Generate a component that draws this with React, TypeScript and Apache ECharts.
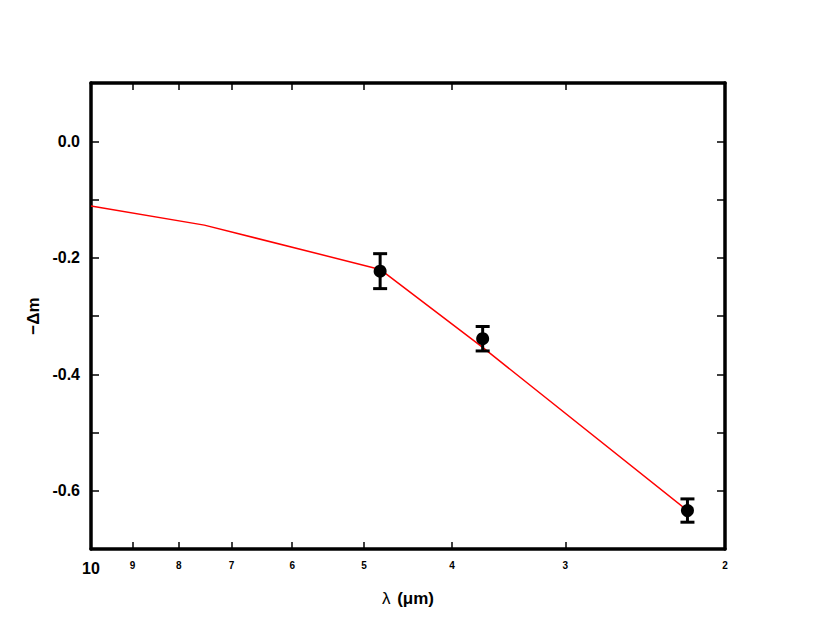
import React, { useEffect, useRef } from 'react';
import * as echarts from 'echarts';

// Tick values
const xTickValues = [9, 8, 7, 6, 5, 4, 3];
const xLabelValues = [10, 9, 8, 7, 6, 5, 4, 3, 2];
const yLabelValues = [0, -0.2, -0.4, -0.6];

// Model curve (red)
const modelLambda = [10, 7.5, 4.8, 3.7, 2.2];
const modelDm = [-0.111, -0.144, -0.22, -0.354, -0.634];

// Observations with error bars
const obsLambda = [4.8, 3.7, 2.2];
const obsDm = [-0.223, -0.339, -0.634];
const obsErr = [0.03, 0.021, 0.02];

const FONT = 'Liberation Sans';

export default function App() {
  const ref = useRef<HTMLDivElement>(null);
  useEffect(() => {
    if (!ref.current) return;
    const chart = echarts.init(ref.current, undefined, { renderer: 'svg' });
    const xBase = {
      type: 'log' as const,
      logBase: 10,
      min: 2,
      max: 10,
      inverse: true,
      splitLine: { show: false },
      axisLine: { show: true, onZero: false, lineStyle: { color: '#000', width: 3.5 } },
      axisTick: { show: true, inside: true, length: 7, lineStyle: { color: '#000', width: 1.5 }, customValues: xTickValues },
    };
    const yBase = {
      type: 'value' as const,
      min: -0.7,
      max: 0.1,
      interval: 0.1,
      splitLine: { show: false },
      axisLine: { show: true, onZero: false, lineStyle: { color: '#000', width: 3.5 } },
      axisTick: { show: true, inside: true, length: 8, lineStyle: { color: '#000', width: 1.5 } },
    };
    chart.setOption({
      animation: false,
      backgroundColor: '#fff',
      grid: { left: 91, right: 105, top: 83, bottom: 92 },
      xAxis: [
        {
          ...xBase,
          position: 'bottom',
          name: '{a|λ}  {b|(μm)}',
          nameLocation: 'middle',
          nameGap: 41,
          nameTextStyle: {
            color: '#000',
            rich: {
              a: { fontFamily: FONT, fontSize: 17, color: '#000' },
              b: { fontFamily: FONT, fontSize: 17, fontWeight: 'bold', color: '#000' },
            },
          },
          axisLabel: {
            show: true,
            margin: 11,
            verticalAlign: 'top',
            customValues: xLabelValues,
            formatter: (v: number) => {
              const r = Math.round(v);
              return r === 10 ? '{big|10}' : '{s|' + r + '}';
            },
            rich: {
              big: { fontFamily: FONT, fontSize: 16, fontWeight: 'bold', color: '#000' },
              s: { fontFamily: FONT, fontSize: 10, fontWeight: 'bold', color: '#000' },
            },
          },
        },
        {
          ...xBase,
          position: 'top',
          axisLabel: { show: false },
        },
      ],
      yAxis: [
        {
          ...yBase,
          position: 'left',
          name: '−Δm',
          nameLocation: 'middle',
          nameGap: 31,
          nameRotate: 90,
          nameTextStyle: { fontFamily: FONT, fontSize: 17, fontWeight: 'bold', color: '#000' },
          axisLabel: {
            show: true,
            margin: 11,
            fontFamily: FONT,
            fontSize: 16,
            fontWeight: 'bold',
            color: '#000',
            formatter: (v: number) => {
              const hit = yLabelValues.some((t) => Math.abs(t - v) < 1e-6);
              return hit ? (Math.abs(v) < 1e-9 ? '0.0' : v.toFixed(1)) : '';
            },
          },
        },
        {
          ...yBase,
          position: 'right',
          axisLabel: { show: false },
        },
      ],
      series: [
        {
          type: 'line',
          xAxisIndex: 0,
          yAxisIndex: 0,
          data: modelLambda.map((l, i) => [l, modelDm[i]]),
          symbol: 'none',
          lineStyle: { color: '#ff0000', width: 1.5 },
          z: 2,
        },
        {
          type: 'custom',
          xAxisIndex: 0,
          yAxisIndex: 0,
          data: obsLambda.map((l, i) => [l, obsDm[i], obsErr[i]]),
          encode: { x: 0, y: 1 },
          renderItem: (params: any, api: any) => {
            const x = api.value(0);
            const y = api.value(1);
            const e = api.value(2);
            const top = api.coord([x, y + e]);
            const bot = api.coord([x, y - e]);
            const hw = 7;
            const st = { stroke: '#000', lineWidth: 3 };
            return {
              type: 'group',
              children: [
                { type: 'line', shape: { x1: top[0], y1: top[1], x2: bot[0], y2: bot[1] }, style: st },
                { type: 'line', shape: { x1: top[0] - hw, y1: top[1], x2: top[0] + hw, y2: top[1] }, style: st },
                { type: 'line', shape: { x1: bot[0] - hw, y1: bot[1], x2: bot[0] + hw, y2: bot[1] }, style: st },
              ],
            };
          },
          z: 3,
        },
        {
          type: 'scatter',
          xAxisIndex: 0,
          yAxisIndex: 0,
          data: obsLambda.map((l, i) => [l, obsDm[i]]),
          symbol: 'circle',
          symbolSize: 13,
          itemStyle: { color: '#000', opacity: 1 },
          z: 4,
        },
      ],
    });
    return () => chart.dispose();
  }, []);
  return <div ref={ref} style={{ width: 830, height: 641, position: 'absolute', left: 0, top: 0 }} />;
}
